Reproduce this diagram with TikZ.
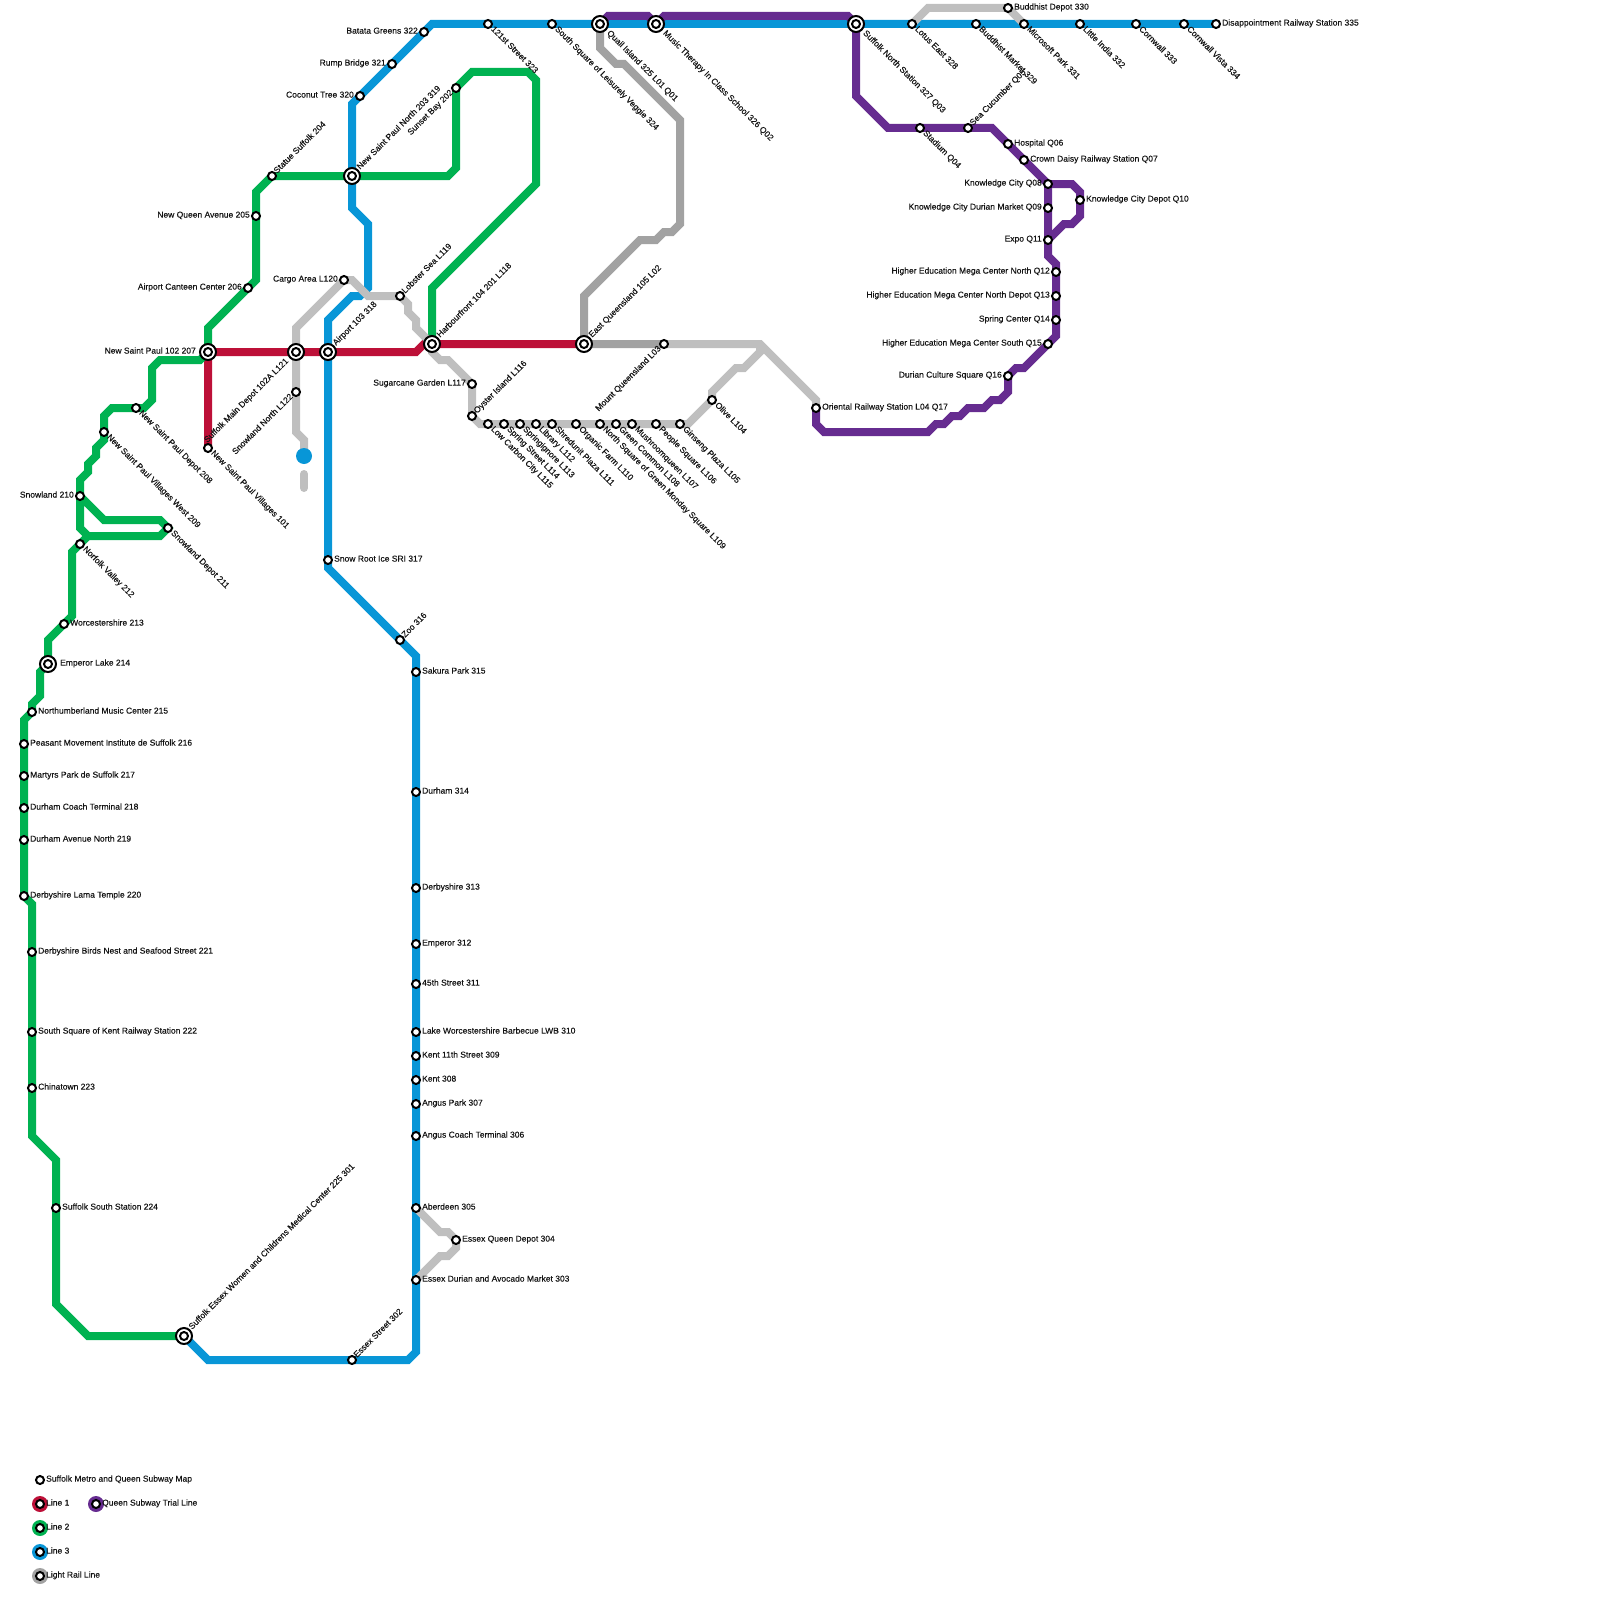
\documentclass[tikz,border=0pt]{standalone}
\usepackage{fontspec}
\setmainfont{Liberation Sans}[FakeBold=0.3]
\usetikzlibrary{backgrounds}
\definecolor{lred}{HTML}{BD1038}
\definecolor{lgreen}{HTML}{00B251}
\definecolor{lblue}{HTML}{0896D7}
\definecolor{lpurple}{HTML}{662C90}
\definecolor{ldark}{HTML}{A2A2A2}
\definecolor{llight}{HTML}{BFBFBF}
\pgfdeclarelayer{lines}
\pgfsetlayers{lines,main}
\tikzset{
  metro/.style={line width=8pt,line join=miter,miter limit=4,line cap=butt},
  smallstn/.style={circle,draw=black,fill=white,line width=2pt,minimum size=8pt,inner sep=0pt},
  hubstn/.style={circle,draw=black,fill=white,line width=2pt,minimum size=16pt,inner sep=0pt},
  lab/.style={inner sep=0pt,font=\fontsize{8.5pt}{8.5pt}\selectfont,text=black!92,text height=6pt,text depth=1.8pt},
  lr/.style={lab,anchor=west,xshift=6pt,yshift=0.5pt},
  ll/.style={lab,anchor=east,xshift=-6pt,yshift=0.5pt},
  lur/.style={lab,xshift=3.5pt,yshift=3.5pt,rotate=45,anchor=west},
  ldr/.style={lab,xshift=4pt,yshift=-4pt,rotate=-45,anchor=west},
  ldl/.style={lab,xshift=-4pt,yshift=-3.5pt,rotate=45,anchor=east},
  blr/.style={lab,anchor=west,xshift=12pt,yshift=0.5pt},
  bll/.style={lab,anchor=east,xshift=-12pt,yshift=0.5pt},
  blur/.style={lab,xshift=6.5pt,yshift=7.5pt,rotate=45,anchor=west},
  bldr/.style={lab,xshift=8pt,yshift=-8pt,rotate=-45,anchor=west},
  bldl/.style={lab,xshift=-8.5pt,yshift=-8pt,rotate=45,anchor=east},
  keydisc/.style={circle,minimum size=16pt,inner sep=0pt},
}
\newcommand{\stn}[5]{\node[smallstn] (#1) at (#2,#3) {}; \node[#4] (#1-l) at (#1.center) {#5};}
\newcommand{\hub}[5]{\node[hubstn] (#1) at (#2,#3) {}; \node[smallstn] (#1-i) at (#2,#3) {}; \node[#4] (#1-l) at (#1.center) {#5};}
\begin{document}
\begin{tikzpicture}[x=1pt,y=-1pt]
\useasboundingbox (0,0) rectangle (1600,1600);
% Line 1 / shared interchanges
\hub{nsp}{208}{352}{bll}{New Saint Paul 102 207}
\stn{nspv}{208}{448}{ldr}{New Saint Paul Villages 101}
\hub{smd}{296}{352}{bldl}{Suffolk Main Depot 102A L121}
\hub{air}{328}{352}{blur}{Airport 103 318}
\hub{hrb}{432}{344}{blur}{Harbourfront 104 201 L118}
\hub{eq}{584}{344}{blur}{East Queensland 105 L02}
% Line 2
\stn{sun}{456}{88}{ldl}{Sunset Bay 202}
\hub{nspn}{352}{176}{blur}{New Saint Paul North 203 319}
\stn{sta}{272}{176}{lur}{Statue Suffolk 204}
\stn{nqa}{256}{216}{ll}{New Queen Avenue 205}
\stn{acc}{248}{288}{ll}{Airport Canteen Center 206}
\stn{dep}{136}{408}{ldr}{New Saint Paul Depot 208}
\stn{nvw}{104}{432}{ldr}{New Saint Paul Villages West 209}
\stn{snw}{80}{496}{ll}{Snowland 210}
\stn{snd}{168}{528}{ldr}{Snowland Depot 211}
\stn{nfk}{80}{544}{ldr}{Norfolk Valley 212}
\stn{wor}{64}{624}{lr}{Worcestershire 213}
\hub{eml}{48}{664}{blr}{Emperor Lake 214}
\stn{nmc}{32}{712}{lr}{Northumberland Music Center 215}
\stn{pmi}{24}{744}{lr}{Peasant Movement Institute de Suffolk 216}
\stn{mar}{24}{776}{lr}{Martyrs Park de Suffolk 217}
\stn{dct}{24}{808}{lr}{Durham Coach Terminal 218}
\stn{dan}{24}{840}{lr}{Durham Avenue North 219}
\stn{dlt}{24}{896}{lr}{Derbyshire Lama Temple 220}
\stn{dbn}{32}{952}{lr}{Derbyshire Birds Nest and Seafood Street 221}
\stn{sqk}{32}{1032}{lr}{South Square of Kent Railway Station 222}
\stn{chi}{32}{1088}{lr}{Chinatown 223}
\stn{sss}{56}{1208}{lr}{Suffolk South Station 224}
\hub{sew}{184}{1336}{blur}{Suffolk Essex Women and Childrens Medical Center 225 301}
% Line 3
\stn{esx}{352}{1360}{lur}{Essex Street 302}
\stn{eda}{416}{1280}{lr}{Essex Durian and Avocado Market 303}
\stn{eqd}{456}{1240}{lr}{Essex Queen Depot 304}
\stn{abd}{416}{1208}{lr}{Aberdeen 305}
\stn{act}{416}{1136}{lr}{Angus Coach Terminal 306}
\stn{apk}{416}{1104}{lr}{Angus Park 307}
\stn{knt}{416}{1080}{lr}{Kent 308}
\stn{k11}{416}{1056}{lr}{Kent 11th Street 309}
\stn{lwb}{416}{1032}{lr}{Lake Worcestershire Barbecue LWB 310}
\stn{s45}{416}{984}{lr}{45th Street 311}
\stn{emp}{416}{944}{lr}{Emperor 312}
\stn{der}{416}{888}{lr}{Derbyshire 313}
\stn{dur}{416}{792}{lr}{Durham 314}
\stn{sak}{416}{672}{lr}{Sakura Park 315}
\stn{zoo}{400}{640}{lur}{Zoo 316}
\stn{sri}{328}{560}{lr}{Snow Root Ice SRI 317}
\stn{coc}{360}{96}{ll}{Coconut Tree 320}
\stn{rmp}{392}{64}{ll}{Rump Bridge 321}
\stn{bat}{424}{32}{ll}{Batata Greens 322}
\stn{s121}{488}{24}{ldr}{121st Street 323}
\stn{ssl}{552}{24}{ldr}{South Square of Leisurely Veggie 324}
\hub{qui}{600}{24}{bldr}{Quail Island 325 L01 Q01}
\hub{mus}{656}{24}{bldr}{Music Therapy In Class School 326 Q02}
\hub{sns}{856}{24}{bldr}{Suffolk North Station 327 Q03}
\stn{lot}{912}{24}{ldr}{Lotus East 328}
\stn{bmk}{976}{24}{ldr}{Buddhist Market 329}
\stn{bdp}{1008}{8}{lr}{Buddhist Depot 330}
\stn{mic}{1024}{24}{ldr}{Microsoft Park 331}
\stn{lin}{1080}{24}{ldr}{Little India 332}
\stn{cor}{1136}{24}{ldr}{Cornwall 333}
\stn{cvi}{1184}{24}{ldr}{Cornwall Vista 334}
\stn{dis}{1216}{24}{lr}{Disappointment Railway Station 335}
% Queen line
\stn{mtq}{664}{344}{ldl}{Mount Queensland L03}
\stn{stq}{920}{128}{ldr}{Stadium Q04}
\stn{seq}{968}{128}{lur}{Sea Cucumber Q05}
\stn{hos}{1008}{144}{lr}{Hospital Q06}
\stn{crd}{1024}{160}{lr}{Crown Daisy Railway Station Q07}
\stn{kc}{1048}{184}{ll}{Knowledge City Q08}
\stn{kcd}{1048}{208}{ll}{Knowledge City Durian Market Q09}
\stn{kdp}{1080}{200}{lr}{Knowledge City Depot Q10}
\stn{exp}{1048}{240}{ll}{Expo Q11}
\stn{q12}{1056}{272}{ll}{Higher Education Mega Center North Q12}
\stn{q13}{1056}{296}{ll}{Higher Education Mega Center North Depot Q13}
\stn{q14}{1056}{320}{ll}{Spring Center Q14}
\stn{q15}{1048}{344}{ll}{Higher Education Mega Center South Q15}
\stn{q16}{1008}{376}{ll}{Durian Culture Square Q16}
\stn{ori}{816}{408}{lr}{Oriental Railway Station L04 Q17}
% Light rail
\stn{oli}{712}{400}{ldr}{Olive L104}
\stn{gin}{680}{424}{ldr}{Ginseng Plaza L105}
\stn{peo}{656}{424}{ldr}{People Square L106}
\stn{mqn}{632}{424}{ldr}{Mushroomqueen L107}
\stn{grc}{616}{424}{ldr}{Green Common L108}
\stn{nsg}{600}{424}{ldr}{North Square of Green Monday Square L109}
\stn{org}{576}{424}{ldr}{Organic Farm L110}
\stn{shr}{552}{424}{ldr}{Shredunit Plaza L111}
\stn{lib}{536}{424}{ldr}{Library L112}
\stn{spi}{520}{424}{ldr}{Springignore L113}
\stn{sps}{504}{424}{ldr}{Spring Street L114}
\stn{lcc}{488}{424}{ldr}{Low Carbon City L115}
\stn{oys}{472}{416}{lur}{Oyster Island L116}
\stn{sug}{472}{384}{ll}{Sugarcane Garden L117}
\stn{lob}{400}{296}{lur}{Lobster Sea L119}
\stn{cgo}{344}{280}{ll}{Cargo Area L120}
\stn{snn}{296}{392}{ldl}{Snowland North L122}
% Legend
\node[keydisc,fill=lred] (k1d) at (40,1504) {};
\node[keydisc,fill=lgreen] (k2d) at (40,1528) {};
\node[keydisc,fill=lblue] (k3d) at (40,1552) {};
\node[keydisc,fill=ldark] (k4d) at (40,1576) {};
\node[keydisc,fill=lpurple] (k5d) at (96,1504) {};
\stn{ttl}{40}{1480}{lr}{Suffolk Metro and Queen Subway Map}
\stn{k1}{40}{1504}{lr}{Line 1}
\stn{k2}{40}{1528}{lr}{Line 2}
\stn{k3}{40}{1552}{lr}{Line 3}
\stn{k4}{40}{1576}{lr}{Light Rail Line}
\stn{k5}{96}{1504}{lr}{Queen Subway Trial Line}
\node[circle,fill=lblue,minimum size=16pt,inner sep=0pt] (blob) at (304,456) {};
\begin{pgfonlayer}{lines}
% red
\draw[metro,lred] (nspv.center) -- (nsp.center) -- (416,352) -- (424,344) -- (eq.center);
% green
\draw[metro,lgreen] (hrb.center) -- (432,288) -- (536,184) -- (536,80) -- (528,72) -- (472,72) -- (sun.center) -- (456,168) -- (448,176) -- (nspn.center) -- (sta.center) -- (256,192) -- (nqa.center) -- (256,280) -- (acc.center) -- (208,328) -- (nsp.center) -- (200,360) -- (160,360) -- (152,368) -- (152,400) -- (144,408) -- (dep.center) -- (112,408) -- (104,416) -- (nvw.center) -- (104,440) -- (96,448) -- (96,456) -- (88,464) -- (88,472) -- (80,480) -- (snw.center) -- (80,528) -- (88,536) -- (160,536) -- (snd.center) -- (160,520) -- (104,520) -- (snw.center);
\draw[metro,lgreen] (88,536) -- (nfk.center) -- (72,552) -- (72,616) -- (wor.center) -- (48,640) -- (eml.center) -- (40,672) -- (40,696) -- (32,704) -- (nmc.center) -- (24,720) -- (dlt.center) -- (32,904) -- (32,1136) -- (56,1160) -- (56,1304) -- (88,1336) -- (sew.center);
% blue
\draw[metro,lblue] (sew.center) -- (208,1360) -- (408,1360) -- (416,1352) -- (416,656) -- (zoo.center) -- (328,568) -- (air.center) -- (328,320) -- (352,296) -- (360,296) -- (368,288) -- (368,224) -- (352,208) -- (352,104) -- (coc.center) -- (bat.center) -- (432,24) -- (dis.center);
% purple
\draw[metro,lpurple] (qui.center) -- (608,16) -- (648,16) -- (mus.center) -- (664,16) -- (848,16) -- (sns.center) -- (856,96) -- (888,128) -- (992,128) -- (kc.center) -- (1072,184) -- (1080,192) -- (1080,216) -- (1072,224) -- (1064,224) -- (exp.center);
\draw[metro,lpurple] (kc.center) -- (1048,256) -- (1056,264) -- (1056,336) -- (q15.center) -- (1024,368) -- (1016,368) -- (q16.center) -- (1008,392) -- (1000,400) -- (992,400) -- (984,408) -- (968,408) -- (960,416) -- (952,416) -- (944,424) -- (936,424) -- (928,432) -- (824,432) -- (816,424) -- (ori.center);
% dark light rail
\draw[metro,ldark] (qui.center) -- (600,48) -- (616,64) -- (624,64) -- (680,120) -- (680,224) -- (672,232) -- (664,232) -- (656,240) -- (640,240) -- (584,296) -- (eq.center) -- (mtq.center);
% light rail
\draw[metro,llight] (mtq.center) -- (760,344) -- (816,400) -- (ori.center);
\draw[metro,llight] (760,344) -- (760,352) -- (744,368) -- (736,368) -- (712,392) -- (oli.center) -- (688,424) -- (480,424) -- (oys.center) -- (sug.center) -- (448,360) -- (440,360) -- (432,352) -- (hrb.center) -- (416,328) -- (416,320) -- (408,312) -- (408,304) -- (lob.center) -- (368,296) -- (352,280) -- (cgo.center) -- (296,328) -- (smd.center) -- (snn.center) -- (296,432) -- (304,440) -- (blob.center);
\draw[llight,line width=8pt,line cap=round] (304,474) -- (304,488);
\draw[metro,llight] (lot.center) -- (928,8) -- (bdp.center) -- (mic.center);
\draw[metro,llight] (abd.center) -- (440,1232) -- (448,1232) -- (eqd.center) -- (456,1248) -- (448,1256) -- (440,1256) -- (eda.center);
\end{pgfonlayer}
\end{tikzpicture}
\end{document}
